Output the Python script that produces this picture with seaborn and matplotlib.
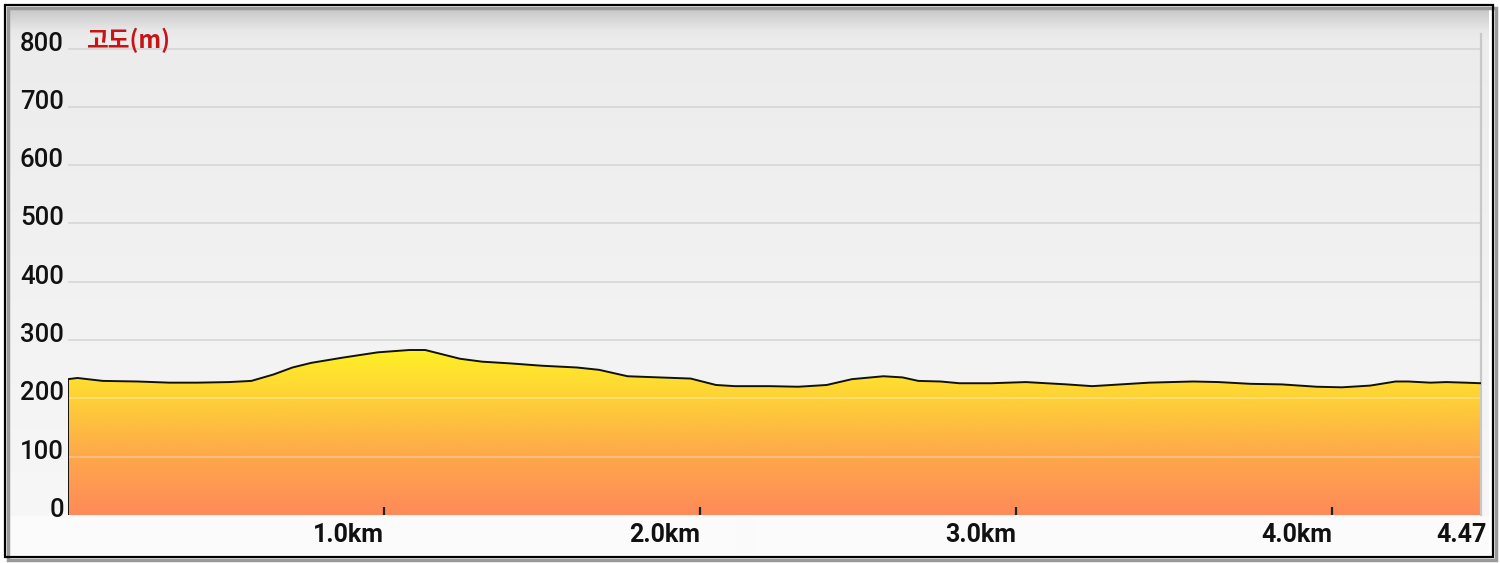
import numpy as np
import pandas as pd
import matplotlib
matplotlib.use("Agg")
import matplotlib.pyplot as plt
import matplotlib.transforms as mtransforms
from matplotlib.colors import LinearSegmentedColormap, to_rgb
from matplotlib.patches import Rectangle
import seaborn as sns

# ---------------- data ----------------
distance_km = [0.00, 0.03, 0.11, 0.22, 0.32, 0.41, 0.51, 0.58, 0.65, 0.71, 0.77, 0.87,
               0.98, 1.08, 1.13, 1.24, 1.31, 1.40, 1.50, 1.61, 1.68, 1.77, 1.87, 1.97,
               2.05, 2.11, 2.22, 2.31, 2.40, 2.48, 2.58, 2.64, 2.69, 2.76, 2.82, 2.92,
               3.03, 3.16, 3.24, 3.33, 3.42, 3.56, 3.64, 3.74, 3.84, 3.95, 4.03, 4.12,
               4.20, 4.24, 4.31, 4.36, 4.42, 4.47]
elevation_m = [233, 235, 230, 229, 227, 227, 228, 230, 241, 253, 261, 270,
               279, 283, 283, 268, 263, 260, 256, 253, 249, 238, 236, 234,
               223, 221, 221, 220, 223, 233, 238, 236, 230, 229, 226, 226,
               228, 224, 221, 224, 227, 229, 228, 225, 224, 220, 219, 222,
               229, 229, 227, 228, 227, 226]
x_tick_values = [1.0, 2.0, 3.0, 4.0, 4.47]
x_tick_labels = ["1.0km", "2.0km", "3.0km", "4.0km", "4.47"]
y_tick_values = [0, 100, 200, 300, 400, 500, 600, 700, 800]
y_tick_labels = ["0", "100", "200", "300", "400", "500", "600", "700", "800"]
axis_title = "고도(m)"

df = pd.DataFrame({"distance": distance_km, "elevation": elevation_m})

# ---------------- style ----------------
sns.set_theme(style="white")
plt.rcParams["font.family"] = ["Roboto", "Noto Sans CJK KR", "DejaVu Sans"]

W, H = 1500, 563
fig = plt.figure(figsize=(W / 100, H / 100), dpi=100)
fig.patch.set_facecolor("white")

# background frame / panel gradient (pixel coords)
bg = fig.add_axes([0, 0, 1, 1])
bg.set_xlim(0, W)
bg.set_ylim(H, 0)
bg.axis("off")
py = np.arange(10, 554)
stops_y = [10, 30, 40, 515, 517, 554]
stops_c = [to_rgb(c) for c in ["#c9c9c9", "#e8e8e8", "#ececec", "#f7f7f7", "#fbfbfb", "#fbfbfb"]]
panel = np.stack([np.interp(py, stops_y, [c[i] for c in stops_c]) for i in range(3)], axis=-1)
panel = panel[:, None, :]
bg.imshow(panel, extent=[10, 1489, 554, 10], aspect="auto", interpolation="bilinear", zorder=0)
bg.add_patch(Rectangle((8, 8), 1488, 552, fill=False, ec="#9a9a9a", lw=2.5, zorder=1))
bg.add_patch(Rectangle((5, 5), 1488, 552, fill=False, ec="black", lw=1.6, zorder=2))

# main axes
top_px, bot_px, left_px, right_px = 34, 515, 68, 1481
ax = fig.add_axes([left_px / W, (H - bot_px) / H, (right_px - left_px) / W, (bot_px - top_px) / H])
ax.patch.set_alpha(0)

# horizontal gridlines behind the fill
ax.hlines(y_tick_values, 0, 4.47, color="#d4d4d4", lw=1.1, zorder=0.5)

# gradient fill under profile
poly = ax.fill_between(df["distance"], 0, df["elevation"], facecolor="none", edgecolor="none")
cmap = LinearSegmentedColormap.from_list(
    "elev", [(0.0, "#ff8a5a"), (0.35, "#fea74b"), (0.7, "#fed038"), (1.0, "#fff026")])
grad = np.linspace(0, 1, 256).reshape(-1, 1)
im = ax.imshow(grad, cmap=cmap, origin="lower", aspect="auto",
               extent=[df["distance"].min(), df["distance"].max(), 0, df["elevation"].max()],
               zorder=1, interpolation="bilinear")
im.set_clip_path(poly.get_paths()[0], transform=ax.transData)

# faint light gridlines over the fill
ax.hlines(y_tick_values[1:3], 0, 4.47, color="white", alpha=0.35, lw=1.1, zorder=2)

# profile line
sns.lineplot(data=df, x="distance", y="elevation", color="#111111", lw=1.4, ax=ax, zorder=4)
ax.vlines(df["distance"].iloc[0], 0, df["elevation"].iloc[0], color="#111111", lw=1.4, zorder=4)

ax.set_xlim(0, 4.47)
ax.set_ylim(0, 825)
ax.set_xlabel("")
ax.set_ylabel("")
ax.grid(False)
ax.set_axisbelow(False)

ax.set_yticks(y_tick_values)
ax.set_yticklabels(y_tick_labels)
ax.set_xticks(x_tick_values)
ax.set_xticklabels(x_tick_labels)

for s in ["left", "top", "bottom"]:
    ax.spines[s].set_visible(False)
ax.spines["right"].set_color("#c8c8c8")
ax.spines["right"].set_linewidth(1.6)

ax.tick_params(axis="x", direction="in", length=6, width=1.6, color="#222222",
               pad=6, labelsize=18, labelcolor="#111111", bottom=True)
ax.tick_params(axis="y", length=0, pad=3, labelsize=18.5, labelcolor="#111111", left=True)
ax.xaxis.get_major_ticks()[-1].tick1line.set_visible(False)
ax.xaxis.get_major_ticks()[0].tick1line.set_color("#f4f0ea")

for i, lbl in enumerate(ax.get_xticklabels()):
    lbl.set_ha("right")
    lbl.set_fontweight("bold")
    if i == len(x_tick_labels) - 1:
        lbl.set_transform(lbl.get_transform() + mtransforms.ScaledTranslation(0.06, 0, fig.dpi_scale_trans))
for lbl in ax.get_yticklabels():
    lbl.set_fontweight("medium")
    lbl.set_transform(lbl.get_transform() + mtransforms.ScaledTranslation(0, 0.075, fig.dpi_scale_trans))

fig.text(86 / W, 1 - 40 / H, axis_title, color="#c81414", fontsize=17, fontweight="bold",
         va="center", ha="left", family=["Noto Sans CJK KR", "DejaVu Sans"])

fig.savefig("out.png", dpi=100)
